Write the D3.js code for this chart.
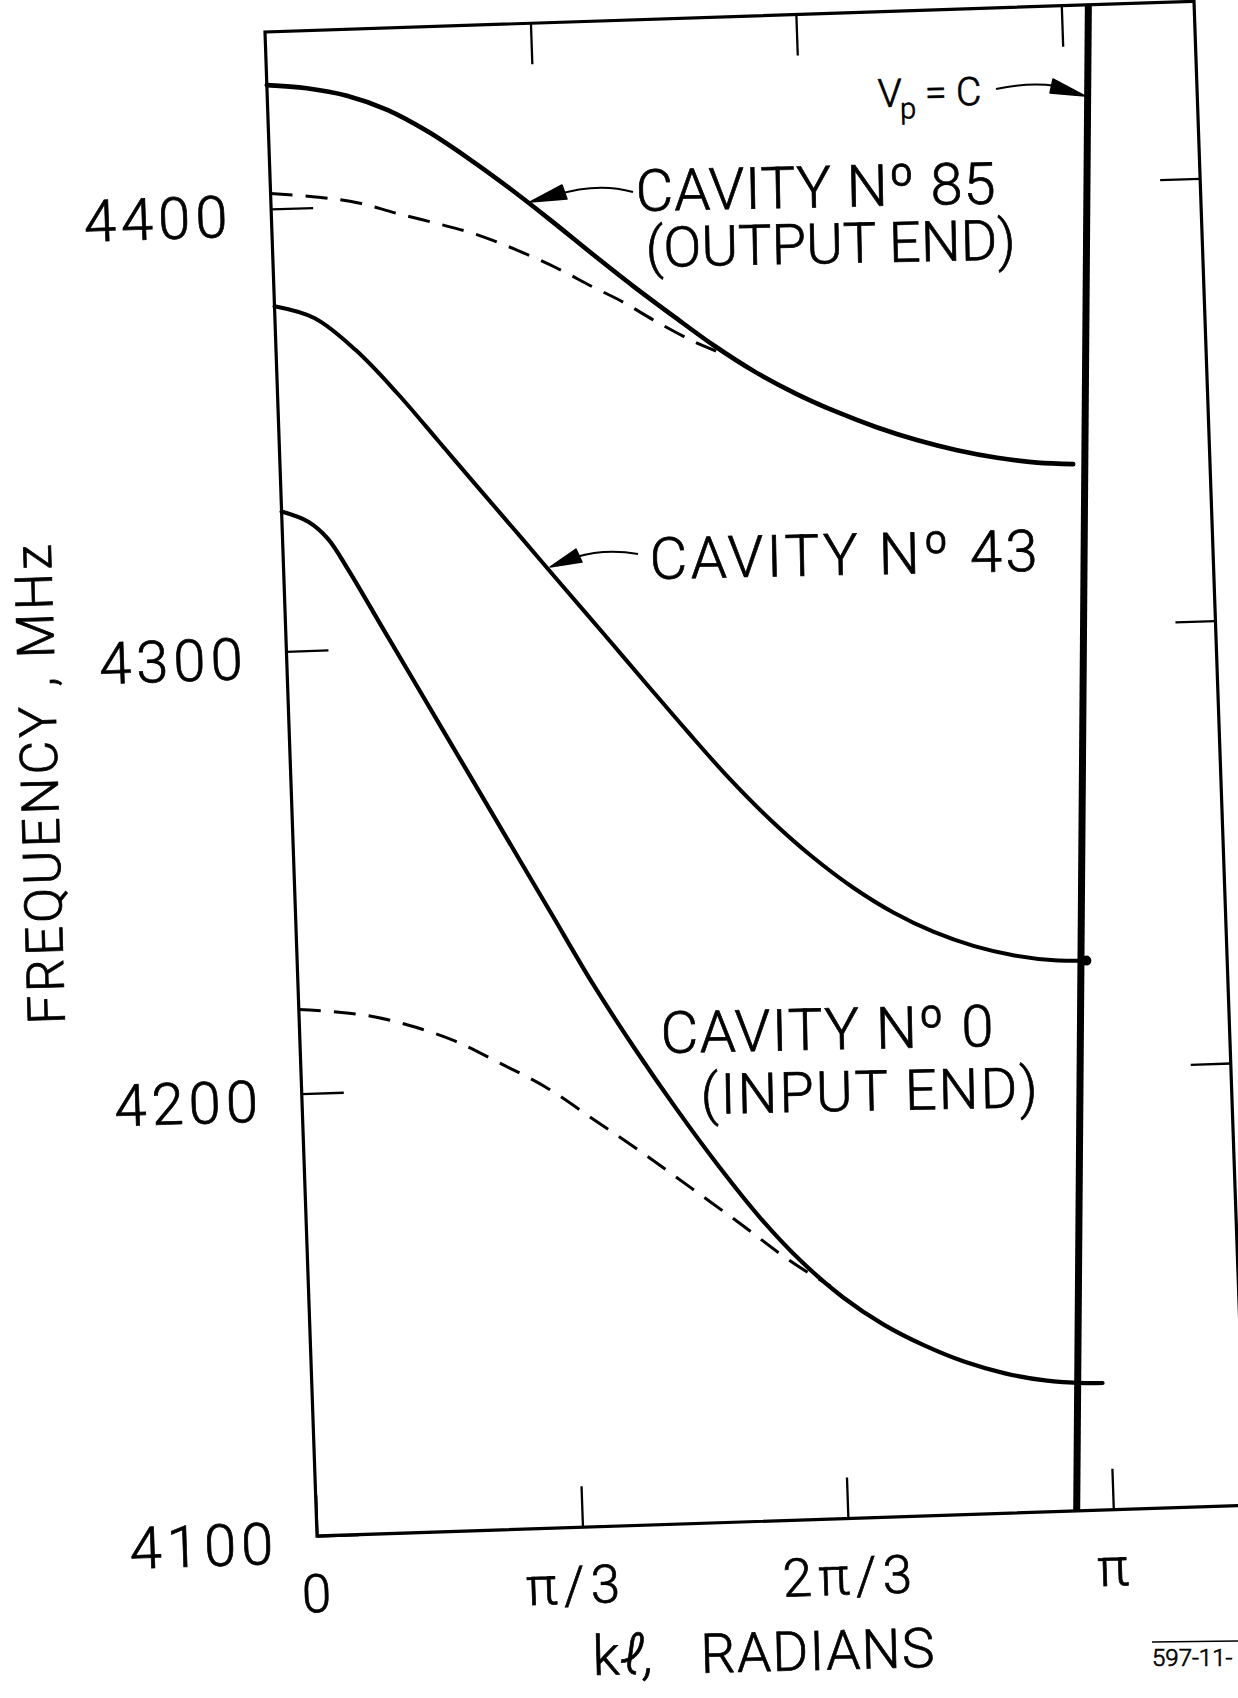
<!DOCTYPE html>
<html>
<head>
<meta charset="utf-8">
<script src="https://cdn.jsdelivr.net/npm/d3@7"></script>
<style>
  html, body { margin: 0; padding: 0; background: #fff; }
  svg { display: block; }
  text { font-family: Roboto, "DejaVu Sans", sans-serif; font-weight: 300; fill: #000; stroke: #000; stroke-width: 0.7px; }
</style>
</head>
<body>
<svg id="chart" width="1238" height="1698"></svg>
<script>
// kℓ is given in units of π, frequency in MHz
const cavity85 = [[0,4428],[0.05,4427],[0.1,4425],[0.15,4421.5],[0.2,4416.3],[0.25,4409.9],[0.3,4402.9],[0.35,4395.4],[0.4,4387.6],[0.45,4380],[0.5,4372.8],[0.55,4365.8],[0.6,4359.6],[0.65,4354.4],[0.7,4350],[0.75,4346.2],[0.8,4343],[0.85,4340.4],[0.9,4338.4],[0.95,4337],[0.995,4336.4]];
const cavity85Uncoupled = [[0,4403.5],[0.06,4402.3],[0.11,4400.7],[0.155,4398.2],[0.205,4395.6],[0.255,4392.8],[0.305,4389],[0.355,4384.6],[0.4,4380],[0.435,4376.6],[0.48,4371.5],[0.53,4366.4],[0.565,4363.6]];
const cavity43 = [[0,4378],[0.05,4375],[0.1,4367.5],[0.15,4357.5],[0.2,4346.3],[0.25,4335],[0.3,4323.8],[0.35,4312.5],[0.4,4301.3],[0.45,4290],[0.5,4278.8],[0.55,4268],[0.6,4258.3],[0.65,4249.8],[0.7,4242.5],[0.75,4236.5],[0.8,4231.8],[0.85,4228.3],[0.9,4225.9],[0.95,4224.5],[0.99,4224.2]];
const cavity0 = [[0,4331.6],[0.033,4329.1],[0.057,4325.1],[0.081,4318],[0.12,4305.1],[0.17,4288.6],[0.22,4272.1],[0.27,4255.6],[0.32,4239.1],[0.37,4222.6],[0.42,4207.6],[0.47,4193.6],[0.52,4180.5],[0.57,4168.5],[0.62,4158.3],[0.67,4150],[0.72,4143.5],[0.77,4138.5],[0.82,4134.5],[0.87,4131.6],[0.92,4129.7],[0.97,4128.8],[0.992,4128.7]];
const cavity0Uncoupled = [[0,4219],[0.047,4218.2],[0.097,4216.7],[0.145,4214.2],[0.195,4210.7],[0.25,4205.4],[0.306,4199.7],[0.365,4192],[0.422,4184.5],[0.483,4176],[0.547,4167],[0.595,4160],[0.63,4155.5],[0.655,4152.6]];
// the v_p = c line, drawn freehand from the top edge to the bottom edge
const lightLine = [[1.034,4440],[0.954,4100]];

const klDomain = [0, 7/6];
const freqDomain = [4100, 4440];
const xTickValues = [0, 1/3, 2/3, 1];
const xTickLabels = ["0", "π/3", "2π/3", "π"];
const yTickValues = [4100, 4200, 4300, 4400];

const W = 929, H = 1504;
const svg = d3.select("#chart");
const ink = "#000";

const x = d3.scaleLinear().domain(klDomain).range([0, W]);
const y = d3.scaleLinear().domain(freqDomain).range([H, 0]);

// the sheet sits slightly skewed on the page
const plot = svg.append("g").attr("transform", "matrix(1,-0.033,0.0346,1,265,32)");

// frame
plot.append("path")
  .attr("d", d3.line()([[x(0), y(4440)], [x(7/6), y(4440)], [x(7/6), y(4100)], [x(0), y(4100)]]) + "Z")
  .attr("fill", "none").attr("stroke", ink).attr("stroke-width", 3.2);

function styleAxis(sel) {
  sel.select(".domain").remove();
  sel.selectAll(".tick line").attr("stroke", ink).attr("stroke-width", 2.3);
}

// left axis with labels
const leftAxis = plot.append("g").call(
  d3.axisLeft(y).tickValues(yTickValues).tickSizeInner(-42).tickSizeOuter(0).tickPadding(39).tickFormat(d3.format("d")));
styleAxis(leftAxis);
leftAxis.selectAll(".tick text")
  .attr("dy", null).attr("y", 26)
  .attr("font-size", 58).attr("letter-spacing", 5)
  .attr("font-family", "Roboto, 'DejaVu Sans', sans-serif").attr("font-weight", 300).attr("fill", ink);

// right axis, ticks only
const rightAxis = plot.append("g").attr("transform", `translate(${x(7/6)},0)`).call(
  d3.axisRight(y).tickValues([4200, 4300, 4400]).tickSizeInner(-40).tickSizeOuter(0).tickFormat(""));
styleAxis(rightAxis);

// bottom axis with labels
const bottomAxis = plot.append("g").attr("transform", `translate(0,${H})`).call(
  d3.axisBottom(x).tickValues(xTickValues).tickSizeInner(-41).tickSizeOuter(0).tickPadding(0)
    .tickFormat((d, i) => xTickLabels[i]));
styleAxis(bottomAxis);
bottomAxis.selectAll(".tick text")
  .attr("dy", null).attr("y", 76)
  .attr("dx", (d, i) => i === 1 ? -9 : 0)
  .attr("font-size", 53).attr("letter-spacing", 6)
  .attr("font-family", "Roboto, 'DejaVu Sans', sans-serif").attr("font-weight", 300).attr("fill", ink);

// top axis, ticks only
const topAxis = plot.append("g").call(
  d3.axisTop(x).tickValues([1/3, 2/3, 1]).tickSizeInner(-41).tickSizeOuter(0).tickFormat(""));
styleAxis(topAxis);

// dispersion curves
const line = d3.line().x(d => x(d[0])).y(d => y(d[1])).curve(d3.curveCatmullRom.alpha(0.5));

plot.append("path").datum(cavity85Uncoupled).attr("d", line)
  .attr("fill", "none").attr("stroke", ink).attr("stroke-width", 3).attr("stroke-dasharray", "22,13");
plot.append("path").datum(cavity0Uncoupled).attr("d", line)
  .attr("fill", "none").attr("stroke", ink).attr("stroke-width", 3).attr("stroke-dasharray", "22,13");

plot.append("path").datum(cavity85).attr("d", line)
  .attr("fill", "none").attr("stroke", ink).attr("stroke-width", 4.6).attr("stroke-linecap", "round");
plot.append("path").datum(cavity43).attr("d", line)
  .attr("fill", "none").attr("stroke", ink).attr("stroke-width", 4).attr("stroke-linecap", "round");
plot.append("path").datum(cavity0).attr("d", line)
  .attr("fill", "none").attr("stroke", ink).attr("stroke-width", 4.2).attr("stroke-linecap", "round");

// end dot of cavity 43 on the v_p = c line
const end43 = cavity43[cavity43.length - 1];
plot.append("circle").attr("cx", x(end43[0])).attr("cy", y(end43[1])).attr("r", 5).attr("fill", ink);

// v_p = c
plot.append("path").datum(lightLine)
  .attr("d", d3.line().x(d => x(d[0])).y(d => y(d[1])))
  .attr("fill", "none").attr("stroke", ink).attr("stroke-width", 7);

// annotations
const notes = svg.append("g");
function label(txt, px, py, size, len, rot) {
  const t = notes.append("text")
    .attr("transform", `translate(${px},${py}) rotate(${rot === undefined ? -1.2 : rot})`)
    .attr("font-size", size)
    .text(txt);
  if (len) t.attr("textLength", len).attr("lengthAdjust", "spacing");
  return t;
}
label("CAVITY Nº 85", 636, 211, 58, 360);
label("(OUTPUT END)", 646, 267, 56, 370);
label("CAVITY Nº 43", 650, 579, 58, 388);
label("CAVITY Nº 0", 661, 1053, 58, 333);
label("(INPUT END)", 701, 1114, 56, 337);

const vp = notes.append("text")
  .attr("transform", "translate(878,107) rotate(-1.2)")
  .attr("font-size", 39);
vp.append("tspan").text("V");
vp.append("tspan").attr("font-size", 29).attr("dy", 12).attr("dx", -2).text("p");
vp.append("tspan").attr("dy", -12).attr("dx", 9).text("= C");

// arrows
function arrow(shaft, head) {
  notes.append("path").attr("d", shaft).attr("fill", "none").attr("stroke", ink).attr("stroke-width", 2);
  notes.append("path").attr("d", d3.line()(head) + "Z").attr("fill", ink).attr("stroke", ink).attr("stroke-width", 1.5).attr("stroke-linejoin", "round");
}
arrow("M633,192 C612,186 585,186 556,195", [[530,202],[562,185],[567,199]]);
arrow("M638,554 C616,550 596,551 576,557", [[550,567],[576,549],[582,562]]);
arrow("M996,89 C1015,85 1035,83 1056,86", [[1085,96],[1053,79],[1050,93]]);

// axis titles
notes.append("text")
  .attr("transform", "translate(65,1024) rotate(-91.7)")
  .attr("font-size", 52)
  .attr("textLength", 480).attr("lengthAdjust", "spacing")
  .text("FREQUENCY , MHz");

const xt = notes.append("text")
  .attr("transform", "translate(593,1675) rotate(-1.5)")
  .attr("font-size", 55);
xt.append("tspan").text("k");
xt.append("tspan").attr("font-style", "italic").text("ℓ,");
notes.append("text")
  .attr("transform", "translate(701,1673) rotate(-1.5)")
  .attr("font-size", 55)
  .attr("textLength", 234).attr("lengthAdjust", "spacing")
  .text("RADIANS");

// drawing number
notes.append("text").attr("x", 1152).attr("y", 1666).attr("font-size", 24).attr("font-weight", 400).attr("stroke-width", 0.3).text("597-11-");
notes.append("line").attr("x1", 1152).attr("x2", 1238).attr("y1", 1642).attr("y2", 1641)
  .attr("stroke", ink).attr("stroke-width", 1.5);
</script>
</body>
</html>
